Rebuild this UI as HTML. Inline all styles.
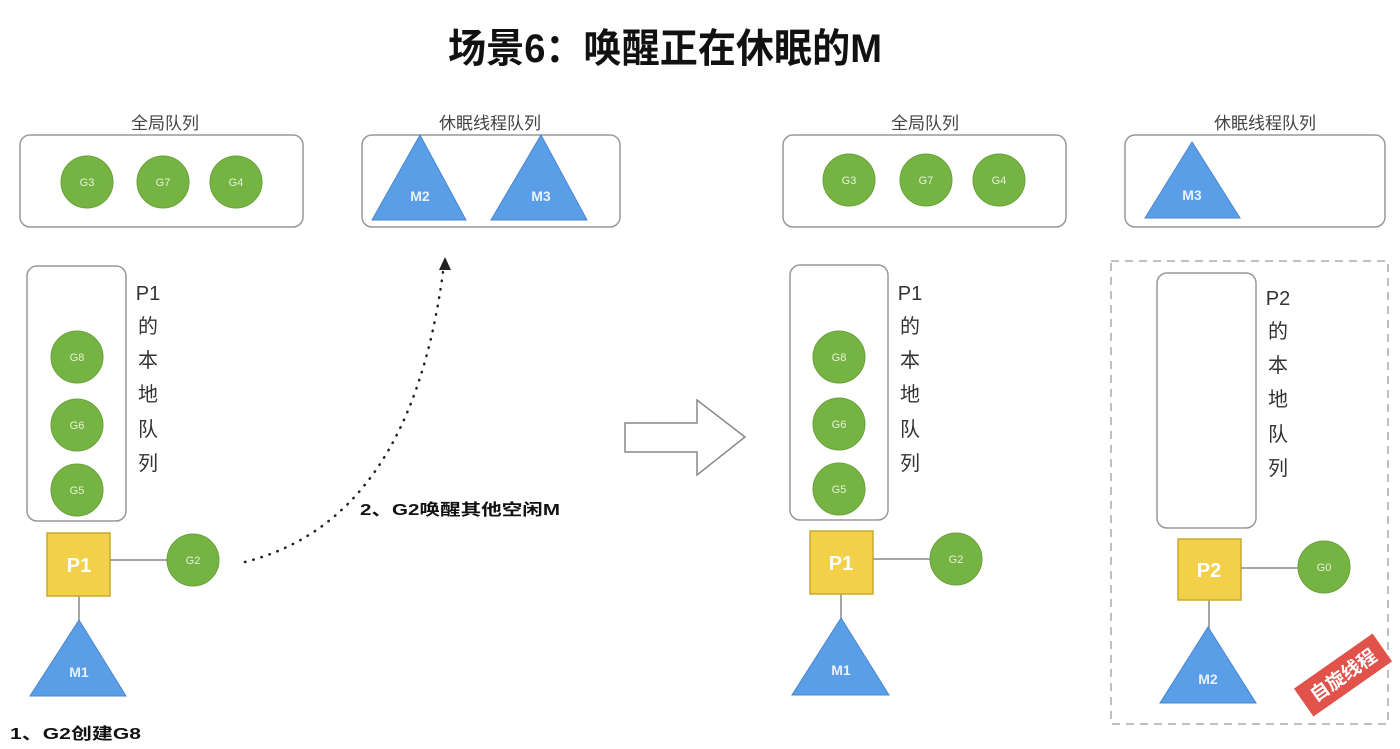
<!DOCTYPE html>
<html><head><meta charset="utf-8"><style>
html,body{margin:0;padding:0;background:#fff;width:1400px;height:749px;overflow:hidden}
svg text{font-family:"Liberation Sans","Noto Sans CJK SC",sans-serif}
</style></head><body>
<svg width="1400" height="749" viewBox="0 0 1400 749" xmlns="http://www.w3.org/2000/svg">
<defs>
<g id="gc"><circle r="26" fill="#75b443" stroke="#6aa23a" stroke-width="1"/></g>
</defs>
<text x="665" y="62" text-anchor="middle" font-size="40" font-weight="bold" fill="#111" textLength="434" lengthAdjust="spacingAndGlyphs">场景6：唤醒正在休眠的M</text>

<g fill="none" stroke="#999" stroke-width="1.5">
<rect x="20" y="135" width="283" height="92" rx="10"/>
<rect x="362" y="135" width="258" height="92" rx="10"/>
<rect x="27" y="266" width="99" height="255" rx="10"/>
<rect x="783" y="135" width="283" height="92" rx="10"/>
<rect x="1125" y="135" width="260" height="92" rx="10"/>
<rect x="790" y="265" width="98" height="255" rx="10"/>
<rect x="1157" y="273" width="99" height="255" rx="10"/>
<rect x="1111" y="261" width="277" height="463" stroke-dasharray="8,6" stroke="#aaa"/>
</g>

<g font-size="17" fill="#444" text-anchor="middle">
<text x="165" y="129">全局队列</text>
<text x="490" y="129">休眠线程队列</text>
<text x="925" y="129">全局队列</text>
<text x="1265" y="129">休眠线程队列</text>
</g>
<g font-size="20" fill="#333" text-anchor="middle">
<text x="148" y="300">P1</text><text x="148" y="333">的</text><text x="148" y="367">本</text><text x="148" y="401">地</text><text x="148" y="436">队</text><text x="148" y="470">列</text>
<text x="910" y="300">P1</text><text x="910" y="333">的</text><text x="910" y="367">本</text><text x="910" y="401">地</text><text x="910" y="436">队</text><text x="910" y="470">列</text>
<text x="1278" y="305">P2</text><text x="1278" y="338">的</text><text x="1278" y="372">本</text><text x="1278" y="406">地</text><text x="1278" y="441">队</text><text x="1278" y="475">列</text>
</g>

<g stroke="#888" stroke-width="1.5">
<line x1="110" y1="560" x2="167" y2="560"/><line x1="79" y1="596" x2="79" y2="622"/>
<line x1="873" y1="559" x2="930" y2="559"/><line x1="841" y1="594" x2="841" y2="620"/>
<line x1="1241" y1="568" x2="1299" y2="568"/><line x1="1209" y1="600" x2="1209" y2="629"/>
</g>

<g fill="#f2d04a" stroke="#c9a830" stroke-width="1.5">
<rect x="47" y="533" width="63" height="63"/>
<rect x="810" y="531" width="63" height="63"/>
<rect x="1178" y="539" width="63" height="61"/>
</g>
<g font-size="20" font-weight="bold" fill="#fff" text-anchor="middle">
<text x="79" y="572">P1</text><text x="841" y="570">P1</text><text x="1209" y="577">P2</text>
</g>

<g fill="#5b9ee8" stroke="#4a86cc" stroke-width="1">
<polygon points="420,135 372,220 466,220"/>
<polygon points="541,135 491,220 587,220"/>
<polygon points="1192,142 1145,218 1240,218"/>
<polygon points="79,620 30,696 126,696"/>
<polygon points="841,618 792,695 889,695"/>
<polygon points="1208,627 1160,703 1256,703"/>
</g>
<g font-size="14" font-weight="bold" fill="#e8f1fc" text-anchor="middle">
<text x="420" y="201">M2</text><text x="541" y="201">M3</text><text x="1192" y="200">M3</text>
<text x="79" y="677">M1</text><text x="841" y="675">M1</text><text x="1208" y="684">M2</text>
</g>

<g>
<use href="#gc" x="87" y="182"/><use href="#gc" x="163" y="182"/><use href="#gc" x="236" y="182"/>
<use href="#gc" x="77" y="357"/><use href="#gc" x="77" y="425"/><use href="#gc" x="77" y="490"/>
<use href="#gc" x="193" y="560"/>
<use href="#gc" x="849" y="180"/><use href="#gc" x="926" y="180"/><use href="#gc" x="999" y="180"/>
<use href="#gc" x="839" y="357"/><use href="#gc" x="839" y="424"/><use href="#gc" x="839" y="489"/>
<use href="#gc" x="956" y="559"/>
<use href="#gc" x="1324" y="567"/>
</g>
<g font-size="11" fill="#e6f2dc" text-anchor="middle">
<text x="87" y="186">G3</text><text x="163" y="186">G7</text><text x="236" y="186">G4</text>
<text x="77" y="361">G8</text><text x="77" y="429">G6</text><text x="77" y="494">G5</text>
<text x="193" y="564">G2</text>
<text x="849" y="184">G3</text><text x="926" y="184">G7</text><text x="999" y="184">G4</text>
<text x="839" y="361">G8</text><text x="839" y="428">G6</text><text x="839" y="493">G5</text>
<text x="956" y="563">G2</text><text x="1324" y="571">G0</text>
</g>

<path d="M245,562 Q410,520 443,272" fill="none" stroke="#222" stroke-width="2.5" stroke-dasharray="0.5,8" stroke-linecap="round"/>
<polygon points="445,257 439,270 451,270" fill="#222"/>

<polygon points="625,423 697,423 697,400 745,437 697,475 697,452 625,452" fill="#fff" stroke="#888" stroke-width="1.5"/>

<g font-size="16" font-weight="bold" fill="#111">
<text x="10" y="739" textLength="131" lengthAdjust="spacingAndGlyphs">1、G2创建G8</text>
<text x="360" y="515" textLength="200" lengthAdjust="spacingAndGlyphs">2、G2唤醒其他空闲M</text>
</g>

<g transform="translate(1343,675) rotate(-35)">
<rect x="-48" y="-17" width="96" height="34" fill="#e0524a"/>
<text x="0" y="7" font-size="19" font-weight="bold" fill="#fff" text-anchor="middle">自旋线程</text>
</g>
</svg>
</body></html>
